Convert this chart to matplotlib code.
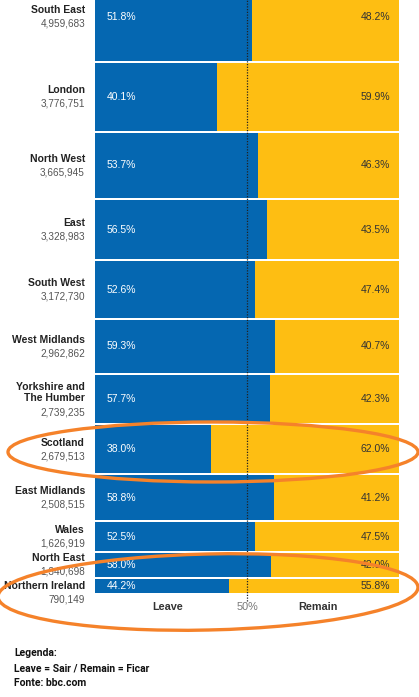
import matplotlib.pyplot as plt
from matplotlib.patches import Ellipse
import numpy as np

plt.rcParams['font.family'] = ['Liberation Sans', 'DejaVu Sans']

# Brexit referendum result by region (bbc.com)
regions = ['South East', 'London', 'North West', 'East', 'South West', 'West Midlands',
           'Yorkshire and\nThe Humber', 'Scotland', 'East Midlands', 'Wales',
           'North East', 'Northern Ireland']
electorate = [4959683, 3776751, 3665945, 3328983, 3172730, 2962862,
              2739235, 2679513, 2508515, 1626919, 1340698, 790149]
leave = [51.8, 40.1, 53.7, 56.5, 52.6, 59.3, 57.7, 38.0, 58.8, 52.5, 58.0, 44.2]
remain = [48.2, 59.9, 46.3, 43.5, 47.4, 40.7, 42.3, 62.0, 41.2, 47.5, 42.0, 55.8]

BLUE = '#0567B1'
YELLOW = '#FEBE12'
ORANGE = '#F5822A'
DARK = '#333333'
GREY = '#555555'

W, H = 419, 697
PX = 0.72                 # points per pixel at dpi 100
px_per_m = 17.83          # bar thickness scale (pixels per million voters)
ax_bottom_px = 593        # bottom of the bar stack in figure pixels

fig = plt.figure(figsize=(W / 100, H / 100), dpi=100)
ax = fig.add_axes([95 / W, (H - ax_bottom_px) / H, 304 / W, ax_bottom_px / H])

# bar thickness proportional to electorate, stacked from the bottom up
h = np.array(electorate) / 1e6
gap = 2 / px_per_m
bottoms = np.zeros(len(h))
y = 0.0
for i in range(len(h) - 1, -1, -1):
    bottoms[i] = y
    y += h[i] + gap

ax.barh(bottoms, leave, height=h, align='edge', color=BLUE, linewidth=0)
ax.barh(bottoms, remain, left=leave, height=h, align='edge', color=YELLOW, linewidth=0)

ax.set_xlim(0, 100)
ax.set_ylim(0, ax_bottom_px / px_per_m)
ax.axis('off')

# 50% reference line
ax.axvline(50, ymin=-8 / ax_bottom_px, ymax=1, clip_on=False, color='#222222',
           ls=(0, (1, 1.2)), lw=0.9, zorder=5)

label_shift = {'Northern Ireland': -7}   # pixels, keeps labels apart

for i, name in enumerate(regions):
    yc = bottoms[i] + h[i] / 2
    n_lines = name.count('\n') + 1
    shift = label_shift.get(name, 0)
    ax.annotate(name, xy=(0, yc), xytext=(-10 * PX, (6.5 + shift) * PX),
                textcoords='offset points', ha='right', va='center',
                fontsize=7.5, fontweight='bold', color='#222222', linespacing=1.15,
                annotation_clip=False)
    ax.annotate(f'{electorate[i]:,}', xy=(0, yc),
                xytext=(-10 * PX, (-6.5 * n_lines - 0.5 + shift) * PX),
                textcoords='offset points', ha='right', va='center',
                fontsize=7.2, color=GREY, annotation_clip=False)
    ax.annotate(f'{leave[i]:.1f}%', xy=(0, yc), xytext=(12 * PX, 0),
                textcoords='offset points', ha='left', va='center',
                fontsize=7.5, color='white')
    ax.annotate(f'{remain[i]:.1f}%', xy=(100, yc), xytext=(-9 * PX, 0),
                textcoords='offset points', ha='right', va='center',
                fontsize=7.5, color=DARK)

# axis captions under the bars
for x, txt, wt, col in [(24, 'Leave', 'bold', DARK), (50, '50%', 'normal', '#777777'),
                        (73.4, 'Remain', 'bold', DARK)]:
    ax.annotate(txt, xy=(x, 0), xytext=(0, -14 * PX), textcoords='offset points',
                ha='center', va='center', fontsize=7.8, fontweight=wt, color=col,
                annotation_clip=False)

# overlay in figure pixels for the highlight ellipses and the notes
ov = fig.add_axes([0, 0, 1, 1])
ov.set_xlim(0, W)
ov.set_ylim(H, 0)
ov.axis('off')
ov.patch.set_alpha(0)

ov.add_patch(Ellipse((213, 452), 410, 60, angle=0, fill=False, ec=ORANGE, lw=2.4))
ov.add_patch(Ellipse((208, 592), 420, 76, angle=-1.3, fill=False, ec=ORANGE, lw=2.4))

notes = ['Legenda:', 'Leave = Sair / Remain = Ficar', 'Fonte: bbc.com']
for j, line in enumerate(notes):
    ov.text(14, 653 + 15 * j, line, ha='left', va='center', fontsize=7.5,
            fontweight='bold', color='#111111',
            family=['Liberation Sans Narrow', 'Roboto', 'DejaVu Sans'])

fig.savefig('out.png', dpi=100)
